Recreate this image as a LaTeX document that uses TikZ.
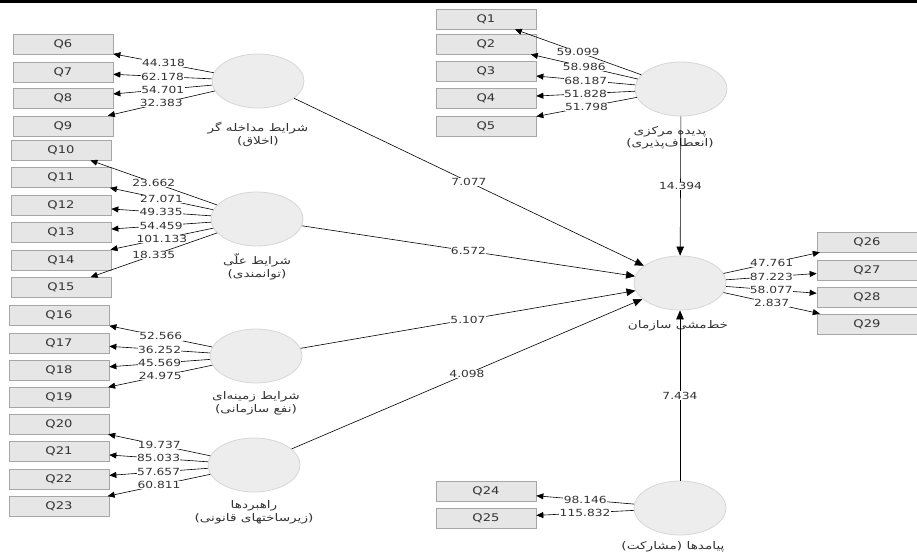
\documentclass[tikz,border=0pt]{standalone}
\usepackage{fontspec}
\setmainfont{DejaVu Sans}[FakeStretch=1.25]
\newfontfamily\fa[Script=Arabic,FakeStretch=1.3]{DejaVu Sans}
\TeXXeTstate=1
\usetikzlibrary{arrows.meta,shapes.geometric}
\definecolor{boxfill}{HTML}{E6E6E6}
\definecolor{boxline}{HTML}{A6A6A6}
\definecolor{latfill}{HTML}{EDEDED}
\definecolor{latline}{HTML}{D6D6D6}
\definecolor{txt}{HTML}{333333}
\begin{document}
\begin{tikzpicture}[x=1pt,y=-1pt,
  qbox/.style={draw=boxline, fill=boxfill, line width=0.7pt, minimum width=100pt, minimum height=20pt, inner sep=0pt, text=txt, font=\fontsize{10.5}{11}\selectfont},
  lat/.style={ellipse, draw=latline, fill=latfill, line width=0.8pt, minimum width=92pt, minimum height=54pt, inner sep=0pt},
  val/.style={fill=white, inner sep=0.4pt, text=txt, font=\fontsize{9.8}{10}\selectfont},
  lbl/.style={align=center, inner sep=0pt, text=txt, font=\fa\fontsize{10.5}{12.5}\selectfont},
  ind/.style={draw=black, line width=0.6pt, -{Triangle[length=7pt,width=6pt]}},
  strc/.style={draw=black, line width=0.6pt, -{Triangle[length=9pt,width=7.5pt]}}
]
\useasboundingbox (0,0) rectangle (917,553);
\fill[black] (0,0) rectangle (917,3);

% latent variables
\node[lat] (c1) at (258,81) {};
\node[lat] (c2) at (257,219) {};
\node[lat] (c3) at (256,356) {};
\node[lat] (c4) at (254,465) {};
\node[lat] (c5) at (681,89) {};
\node[lat] (c6) at (680,283) {};
\node[lat] (c7) at (680,508) {};

% labels
\node[lbl] (l1) at (258,134.5) {\beginR شرایط مداخله گر\endR\\\beginR (اخلاق)\endR};
\node[lbl] (l2) at (257,266.5) {\beginR شرایط علّی\endR\\\beginR (توانمندی)\endR};
\node[lbl] (l3) at (256,403.5) {\beginR شرایط زمینه‌ای\endR\\\beginR (نفع سازمانی)\endR};
\node[lbl] (l4) at (254,512.5) {\beginR راهبردها\endR\\\beginR (زیرساختهای قانونی)\endR};
\node[lbl] (l5) at (670,138) {\beginR پدیده مرکزی\endR\\\beginR (انعطاف‌پذیری)\endR};
\node[lbl] (l6) at (678,326) {\beginR خط‌مشی سازمان\endR};
\node[lbl] (l7) at (673,547) {\beginR پیامدها (مشارکت)\endR};

% indicator boxes
\node[qbox] (q6) at (63,44.5) {Q6};
\node[qbox] (q7) at (63,72) {Q7};
\node[qbox] (q8) at (63,98.5) {Q8};
\node[qbox] (q9) at (63,126) {Q9};
\node[qbox] (q10) at (61,150) {Q10};
\node[qbox] (q11) at (61,177.5) {Q11};
\node[qbox] (q12) at (61,205.5) {Q12};
\node[qbox] (q13) at (61,232.5) {Q13};
\node[qbox] (q14) at (61,260) {Q14};
\node[qbox] (q15) at (61,287.5) {Q15};
\node[qbox] (q16) at (59,315.5) {Q16};
\node[qbox] (q17) at (59,343) {Q17};
\node[qbox] (q18) at (59,370.5) {Q18};
\node[qbox] (q19) at (59,397.5) {Q19};
\node[qbox] (q20) at (59,424) {Q20};
\node[qbox] (q21) at (59,451.5) {Q21};
\node[qbox] (q22) at (59,479) {Q22};
\node[qbox] (q23) at (59,506.5) {Q23};
\node[qbox] (q1) at (486,19) {Q1};
\node[qbox] (q2) at (486,44) {Q2};
\node[qbox] (q3) at (486,71.5) {Q3};
\node[qbox] (q4) at (486,98.5) {Q4};
\node[qbox] (q5) at (486,126) {Q5};
\node[qbox] (q24) at (486,491.5) {Q24};
\node[qbox] (q25) at (486,518) {Q25};
\node[qbox] (q26) at (867,242) {Q26};
\node[qbox] (q27) at (867,270) {Q27};
\node[qbox] (q28) at (867,297) {Q28};
\node[qbox] (q29) at (867,324) {Q29};

% outer loadings
\draw[ind] (c1) -- node[val]{44.318} (q6);
\draw[ind] (c1) -- node[val]{62.178} (q7);
\draw[ind] (c1) -- node[val]{54.701} (q8);
\draw[ind] (c1) -- node[val]{32.383} (q9);
\draw[ind] (c2) -- node[val]{23.662} (q10);
\draw[ind] (c2) -- node[val]{27.071} (q11);
\draw[ind] (c2) -- node[val]{49.335} (q12);
\draw[ind] (c2) -- node[val]{54.459} (q13);
\draw[ind] (c2) -- node[val]{101.133} (q14);
\draw[ind] (c2) -- node[val]{18.335} (q15);
\draw[ind] (c3) -- node[val]{52.566} (q16);
\draw[ind] (c3) -- node[val]{36.252} (q17);
\draw[ind] (c3) -- node[val]{45.569} (q18);
\draw[ind] (c3) -- node[val]{24.975} (q19);
\draw[ind] (c4) -- node[val]{19.737} (q20);
\draw[ind] (c4) -- node[val]{85.033} (q21);
\draw[ind] (c4) -- node[val]{57.657} (q22);
\draw[ind] (c4) -- node[val]{60.811} (q23);
\draw[ind] (c5) -- node[val]{59.099} (q1);
\draw[ind] (c5) -- node[val]{58.986} (q2);
\draw[ind] (c5) -- node[val]{68.187} (q3);
\draw[ind] (c5) -- node[val]{51.828} (q4);
\draw[ind] (c5) -- node[val]{51.798} (q5);
\draw[ind] (c7) -- node[val]{98.146} (q24);
\draw[ind] (c7) -- node[val]{115.832} (q25);
\draw[ind] (c6) -- node[val]{47.761} (q26);
\draw[ind] (c6) -- node[val]{87.223} (q27);
\draw[ind] (c6) -- node[val]{58.077} (q28);
\draw[ind] (c6) -- node[val]{2.837} (q29);

% structural paths
\draw[strc] (c1) -- node[val]{7.077} (c6);
\draw[strc] (c2) -- node[val]{6.572} (c6);
\draw[strc] (c3) -- node[val]{5.107} (c6);
\draw[strc] (c4) -- node[val]{4.098} (c6);
\draw[strc] (c5) -- node[val]{14.394} (c6);
\draw[strc] (c7) -- node[val]{7.434} (c6);
\end{tikzpicture}
\end{document}
